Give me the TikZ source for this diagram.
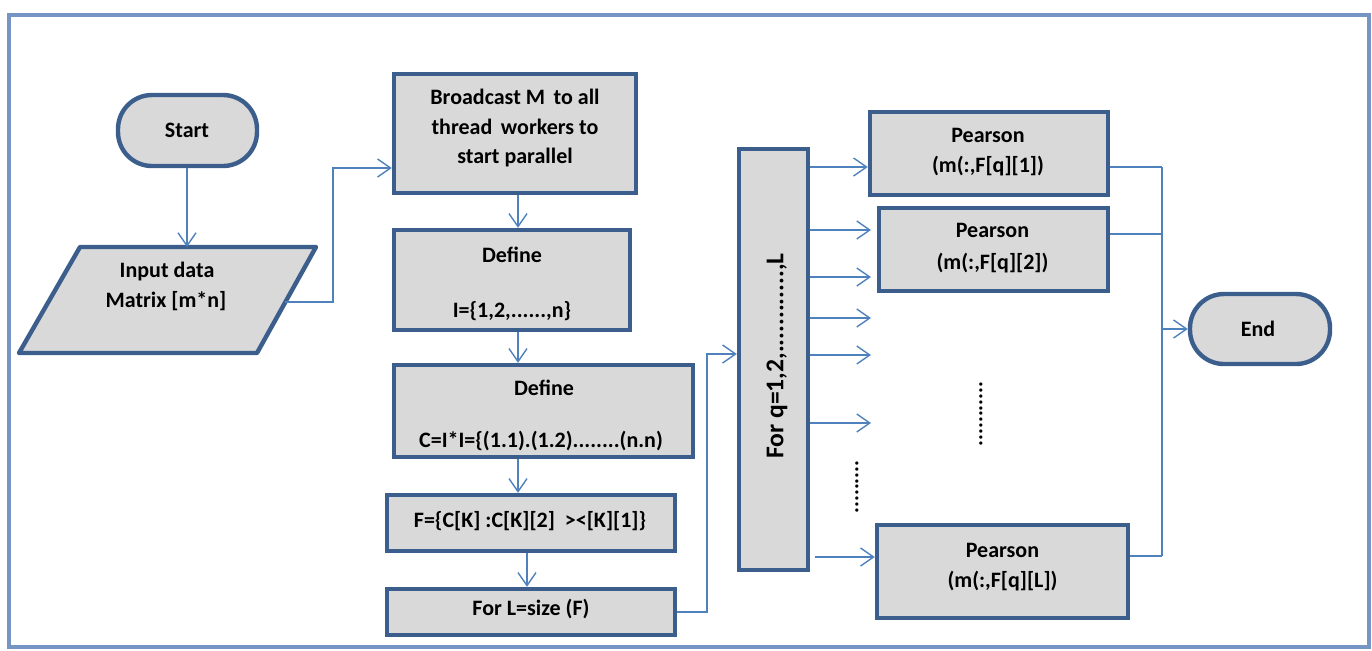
\documentclass[tikz,border=0pt]{standalone}
\usepackage{fontspec}
\setmainfont{Carlito}
\usetikzlibrary{arrows.meta}
\newlength\pxu \setlength\pxu{0.5pt}
\definecolor{boxline}{RGB}{59,94,140}
\definecolor{boxfill}{RGB}{217,217,217}
\definecolor{conncol}{RGB}{79,129,189}
\definecolor{framecol}{RGB}{118,148,196}
\begin{document}
\begin{tikzpicture}[x=0.5pt,y=-0.5pt,
  box/.style={draw=boxline,fill=boxfill,line width=2.2pt,inner sep=0pt},
  term/.style={box,rounded corners=17pt},
  txt/.style={font=\bfseries\fontsize{11}{14}\selectfont,text=black,anchor=base,inner sep=0pt},
  arr/.style={draw=conncol,line width=0.7pt,-{Straight Barb[length=6.5pt,width=9pt]}},
  ln/.style={draw=conncol,line width=0.7pt}]
\useasboundingbox (0,0) rectangle (1372,650);
\draw[framecol,line width=1.8pt] (9,15) rectangle (1369,647);

% shapes
\node[term,minimum width=139\pxu,minimum height=71\pxu] (start) at (187.5,130.5) {};
\draw[box,line join=round] (80,247) -- (316,247) -- (257,353) -- (19,353) -- cycle;
\coordinate (inpN) at (187,247);
\coordinate (inpE) at (285,302);
\node[box,minimum width=242\pxu,minimum height=119\pxu] (bc) at (515,133.5) {};
\node[box,minimum width=236\pxu,minimum height=100\pxu] (d1) at (512,280) {};
\node[box,minimum width=299\pxu,minimum height=92\pxu] (d2) at (543.5,411) {};
\node[box,minimum width=288\pxu,minimum height=56\pxu] (fb) at (531,523) {};
\node[box,minimum width=288\pxu,minimum height=46\pxu] (fl) at (531,612) {};
\node[box,minimum width=69\pxu,minimum height=421\pxu] (fq) at (773.5,359.5) {};
\node[box,minimum width=238\pxu,minimum height=83\pxu] (p1) at (989,153.5) {};
\node[box,minimum width=229\pxu,minimum height=83\pxu] (p2) at (993.5,249.5) {};
\node[box,minimum width=251\pxu,minimum height=93\pxu] (pL) at (1002.5,571.5) {};
\node[term,minimum width=140\pxu,minimum height=70\pxu] (end) at (1260,329) {};

% texts
\node[txt] (tstart) at (187,137) {Start};
\node[txt] (tin1) at (167,277) {Input data};
\node[txt] (tin2) at (166,307) {Matrix [m*n]};
\node[txt] (tbc1) at (515,104) {Broadcast M\, to all};
\node[txt] (tbc2) at (515,134) {thread\, workers to};
\node[txt] (tbc3) at (515,163) {start parallel};
\node[txt] (td11) at (512,262) {Define};
\node[txt] (td12) at (512,317) {I=\{1,2,......,n\}};
\node[txt] (td21) at (544,395) {Define};
\node[txt] (td22) at (541,447) {C=I*I=\{(1.1).(1.2)........(n.n)};
\node[txt] (tfb) at (530,527) {F=\{C[K] :C[K][2]\ \ ><[K][1]\}};
\node[txt] (tfl) at (531,615) {For L=size (F)};
\node[txt,rotate=90,anchor=center] (tfq) at (777,356) {\fontsize{12.8}{14}\selectfont For q=1,2,............,L};
\node[txt] (tp11) at (988,142) {Pearson};
\node[txt] (tp12) at (988,172) {(m(:,F[q][1])};
\node[txt] (tp21) at (992.5,237) {Pearson};
\node[txt] (tp22) at (992.5,269) {(m(:,F[q][2])};
\node[txt] (tpL1) at (1002.5,557) {Pearson};
\node[txt] (tpL2) at (1002.5,587) {(m(:,F[q][L])};
\node[txt] (tend) at (1258,336) {End};
\node[txt,rotate=90,anchor=center] (dots1) at (857,487) {.........};
\node[txt,rotate=90,anchor=center] (dots2) at (981,414) {...........};

% connectors
\draw[arr] (start.south -| inpN) -- (inpN);
\draw[arr] (inpE) -- (333,302) -- (333,168) -- (bc.west |- 0,168);
\draw[arr] (bc.south -| 518,0) -- (d1.north -| 518,0);
\draw[arr] (d1.south -| 518,0) -- (d2.north -| 518,0);
\draw[arr] (d2.south -| 518,0) -- (fb.north -| 518,0);
\draw[arr] (fb.south -| 527,0) -- (fl.north -| 527,0);
\draw[arr] (fl.east) -- (707,612) -- (707,354) -- (fq.west |- 0,354);

\coordinate (a2) at (871,230);
\coordinate (a3) at (871,277);
\coordinate (a4) at (871,318);
\coordinate (a5) at (871,355);
\coordinate (a6) at (871,423);
\draw[arr] (fq.east |- 0,167) -- (p1.west |- 0,167);
\draw[arr] (fq.east |- 0,230) -- (a2);
\draw[arr] (fq.east |- 0,277) -- (a3);
\draw[arr] (fq.east |- 0,318) -- (a4);
\draw[arr] (fq.east |- 0,355) -- (a5);
\draw[arr] (fq.east |- 0,423) -- (a6);
\draw[arr] (815,557) -- (pL.west |- 0,557);

\coordinate (bt) at (1162,167);
\coordinate (bb) at (1162,556);
\draw[ln] (p1.east |- 0,167) -- (bt);
\draw[ln] (p2.east |- 0,234) -- (bt |- 0,234);
\draw[ln] (pL.east |- 0,556) -- (bb);
\draw[ln] (bt) -- (bb);
\draw[arr] (bt |- end.west) -- (end.west);
\end{tikzpicture}
\end{document}
